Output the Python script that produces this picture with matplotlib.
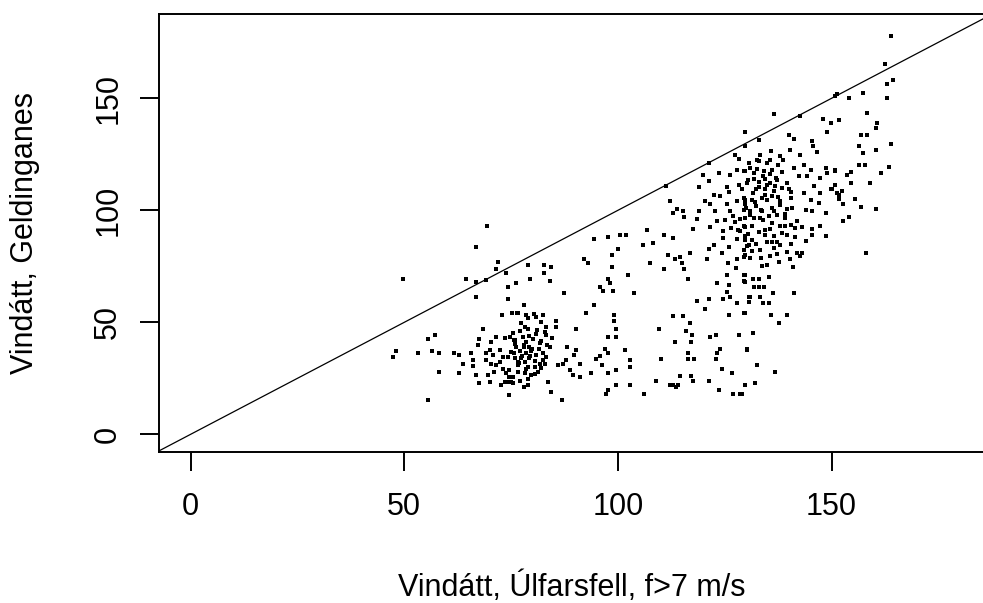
import matplotlib
matplotlib.use('Agg')
import matplotlib.pyplot as plt

plt.rcParams['font.family'] = ['Liberation Sans', 'DejaVu Sans']

# wind direction pairs (Úlfarsfell, Geldinganes)
low_left_x = [66.7, 69.3, 71.9, 71.4, 73.7, 49.8, 64.5, 66.8, 69.2, 74.3, 76.1, 66.8, 74.3, 75.3, 72.9, 76.6,
              68.5, 55.5, 57.3, 67.6, 71.5, 73.5, 74.8, 75.8, 70.4, 67.2, 48.0, 47.4, 53.1, 56.5, 58.1, 61.7,
              62.9, 65.7, 69.2, 70.0, 70.7, 72.3, 73.1, 74.3, 75.6, 66.0, 63.8, 69.2, 70.4, 71.5, 72.3, 76.6,
              66.0, 58.2, 62.9, 66.7, 69.6, 73.9, 74.6, 73.5, 75.0, 72.7, 67.6, 70.0, 74.6, 55.5]
low_left_y = [83.6, 92.9, 77.1, 73.7, 72.2, 69.2, 69.2, 68.2, 68.9, 65.7, 67.5, 61.2, 60.3, 54.3, 53.3, 54.3,
              46.9, 42.4, 44.2, 42.4, 43.3, 42.8, 43.3, 42.1, 41.1, 39.8, 37.3, 34.3, 36.1, 37.3, 36.1, 36.1,
              35.4, 36.1, 36.1, 37.6, 35.4, 37.6, 34.6, 34.6, 36.4, 33.1, 31.6, 33.1, 31.6, 30.9, 32.4, 32.4,
              30.4, 27.9, 27.2, 26.4, 26.4, 27.4, 25.6, 23.4, 23.4, 21.9, 22.7, 23.4, 17.5, 15.5]

low_dense_x = [76.4, 78.6, 80.3, 82.5, 78.9, 80.9, 77.4, 78.2, 82.1, 83.1, 75.4, 77.8, 79.3, 80.9, 83.1, 75.6,
               78.6, 80.1, 81.7, 76.2, 77.9, 79.3, 83.4, 84.0, 75.0, 77.0, 78.6, 79.7, 80.9, 82.5, 83.2, 75.8,
               77.4, 78.2, 79.3, 80.5, 81.7, 82.9, 76.6, 78.9, 80.5, 82.1, 74.6, 78.2, 79.7, 81.3, 75.4, 78.9,
               74.6, 75.4, 76.9,
               77.0, 79.0, 81.0, 83.0, 76.0, 78.0, 80.0, 82.0, 77.5, 79.5, 81.5, 76.5, 78.5, 80.5, 82.5, 77.0,
               79.0, 73.0, 71.0, 84.5]
low_dense_y = [54.0, 53.3, 53.7, 53.3, 51.8, 52.2, 49.6, 48.0, 50.3, 48.0, 45.1, 43.6, 43.9, 44.8, 44.3, 42.1,
               41.3, 42.4, 40.6, 39.1, 38.8, 39.1, 39.8, 39.1, 36.6, 37.0, 36.1, 37.0, 35.4, 36.1, 34.6, 33.9,
               33.9, 32.4, 33.9, 32.8, 31.6, 31.6, 30.9, 30.1, 30.1, 29.4, 28.6, 27.4, 26.4, 27.9, 25.6, 24.9,
               23.4, 22.7, 32.0,
               46.0, 47.0, 46.5, 45.5, 40.5, 40.0, 38.0, 41.5, 35.0, 34.8, 38.0, 28.0, 29.0, 27.0, 33.0, 24.0,
               22.0, 29.0, 28.0, 43.0]

mid_x = [94.4, 97.7, 100.5, 101.9, 100.1, 98.5, 92.0, 93.0, 78.9, 82.6, 84.4, 98.5, 82.6, 102.4, 79.5, 84.0,
         97.7, 98.1, 95.8, 96.4, 98.8, 87.3, 103.8, 94.4, 77.9, 92.5, 99.1, 99.1, 85.6, 85.6, 90.3, 99.5,
         97.7, 99.5, 88.0, 90.1, 89.8, 96.9, 97.7, 95.9, 94.8, 101.6, 87.8, 91.2, 87.2, 86.0, 88.7, 102.8,
         102.8, 96.2, 99.5, 89.5, 91.1, 93.8, 97.7, 83.6, 99.5, 102.8, 97.7, 97.2, 84.4, 86.8, 77.9]
mid_y = [87.2, 88.0, 89.1, 89.1, 82.7, 80.1, 78.2, 76.4, 75.6, 75.6, 74.6, 74.6, 71.9, 71.2, 69.2, 68.6,
         69.2, 67.5, 65.7, 64.1, 64.1, 63.0, 63.0, 57.7, 57.7, 54.0, 53.3, 50.7, 50.7, 48.0, 46.9, 46.9,
         43.6, 43.6, 39.1, 37.6, 35.4, 37.9, 36.1, 35.0, 33.4, 37.6, 33.1, 31.6, 31.6, 30.9, 28.6, 33.1,
         30.1, 30.9, 28.6, 26.4, 25.6, 27.2, 27.2, 23.4, 21.9, 21.9, 19.7, 17.9, 18.9, 15.5, 20.9]

upper_mid_x = [127.5, 128.3, 121.4, 119.9, 121.2, 123.6, 126.3, 127.8, 129.4, 125.5, 128.3, 111.3, 118.9, 112.2,
               122.4, 123.9, 120.4, 121.6, 125.5, 127.8, 129.8, 113.8, 115.3, 112.8, 118.9, 122.8, 126.3, 129.4,
               115.5, 118.5, 125.1, 123.3, 127.5, 129.8, 106.7, 117.5, 121.6, 124.6, 128.6, 110.8, 113.0, 124.7,
               127.8, 129.8, 105.8, 108.2, 122.4, 121.2, 125.9, 130.2, 111.8, 114.6, 113.4, 116.9, 124.3, 127.8,
               125.7, 129.8, 120.8, 115.1, 107.6, 127.7, 110.8, 115.5, 116.5, 125.5, 129.8, 129.8, 123.1, 125.9]
upper_mid_y = [124.9, 123.0, 120.9, 115.9, 112.9, 116.7, 115.9, 117.9, 117.5, 110.5, 111.4, 111.0, 110.5, 104.0,
               107.0, 106.5, 104.0, 103.0, 102.6, 104.0, 104.4, 100.6, 99.6, 98.8, 99.6, 99.6, 99.6, 100.3,
               97.0, 96.1, 95.5, 95.1, 94.7, 92.6, 91.1, 91.7, 92.6, 90.7, 90.7, 89.1, 87.5, 87.5,
               87.3, 86.6, 84.6, 85.3, 84.6, 82.7, 83.6, 83.9, 80.1, 79.1, 78.2, 80.9, 80.9, 78.2,
               76.4, 80.1, 78.2, 76.4, 76.4, 74.3, 73.7, 73.7, 69.2, 71.2, 71.2, 68.2, 67.5, 66.7]

lower_mid_x = [124.7, 125.5, 126.3, 127.8, 129.8, 130.6, 121.2, 118.5, 120.4, 125.9, 112.8, 115.2, 116.9, 109.5,
               116.0, 117.3, 121.6, 122.9, 128.3, 113.4, 117.0, 123.9, 123.1, 130.2, 116.5, 110.0, 116.5, 117.7,
               123.0, 124.3, 126.6, 114.6, 117.0, 109.0, 117.5, 121.2, 112.2, 113.0, 114.1, 113.7, 129.8, 106.1,
               123.6, 126.9, 128.6]
lower_mid_y = [60.3, 63.7, 61.5, 58.5, 54.0, 61.5, 60.3, 59.3, 55.8, 53.3, 52.7, 52.7, 49.6, 46.9,
               45.9, 44.3, 43.3, 44.3, 44.3, 41.3, 41.3, 38.3, 36.1, 37.6, 36.1, 33.4, 33.4, 33.4,
               33.4, 29.0, 27.2, 26.0, 26.0, 23.9, 23.9, 23.9, 21.9, 21.9, 21.9, 21.0, 21.9, 18.2,
               20.0, 18.2, 18.2]

dense_x = [136.6, 142.7, 148.0, 149.8, 151.7, 129.8, 140.0, 149.0, 141.2, 133.0, 129.8, 145.4, 140.2, 145.7,
           146.5, 135.8, 133.3, 138.0, 142.7, 138.6, 135.7, 133.0, 134.9, 130.6, 137.4, 143.5, 141.2, 145.1,
           148.6, 150.9, 129.8, 131.8, 134.1, 136.1, 142.3, 144.3, 147.4, 149.0, 131.8, 134.5, 137.2, 130.2,
           133.0, 135.7, 138.4, 140.0, 149.8, 129.0, 132.2, 134.5, 136.5, 143.5, 147.4, 151.3, 129.4, 131.3,
           133.7, 136.1, 140.4, 138.0, 145.1, 129.8, 132.2, 136.1, 140.8, 143.9, 147.0, 131.0, 133.7, 137.2,
           145.4, 148.6, 129.8, 131.8, 133.3, 135.3, 139.2, 138.0, 139.0, 140.4, 141.5, 143.1, 145.4, 147.4,
           134.5, 129.4, 131.3, 129.8, 131.3, 134.5, 136.5, 139.6, 145.4, 148.6, 134.9, 136.0, 137.2, 130.6,
           132.2, 138.0, 140.4, 129.4, 131.3, 133.3, 136.5, 141.9, 143.1, 137.2, 139.6, 129.5, 131.0, 133.5,
           137.6, 140.2, 142.5, 135.5,
           131.0, 132.5, 134.0, 135.5, 137.0, 138.5, 130.5, 133.0, 135.0, 136.8, 139.5, 131.5, 134.5, 137.5,
           140.5, 132.0, 135.0, 138.0, 130.0, 133.5, 136.5, 139.0, 127.0, 128.5, 131.0, 134.0, 136.0, 126.5,
           128.0, 130.5, 133.0, 135.5, 138.5, 141.5, 144.0, 142.0, 139.5, 146.0, 132.5, 126.0]
dense_y = [142.8, 142.3, 140.9, 139.1, 140.3, 134.9, 133.8, 134.9, 131.9, 131.3, 128.7, 131.0, 127.1, 128.7,
           126.1, 126.5, 124.9, 124.3, 124.9, 122.6, 122.6, 121.9, 121.2, 120.9, 120.0, 120.0, 119.0, 118.2,
           119.0, 117.9, 117.5, 116.7, 117.5, 118.2, 115.3, 115.3, 114.6, 116.7, 114.1, 113.8, 113.5, 112.3,
           112.7, 112.3, 110.1, 109.6, 109.3, 109.3, 109.3, 109.3, 108.5, 107.8, 107.8, 107.8, 105.5, 104.7,
           105.5, 106.3, 105.5, 104.0, 104.7, 102.6, 101.8, 101.1, 101.1, 100.3, 103.3, 99.6, 99.6, 98.0,
           99.6, 98.9, 96.7, 96.7, 96.7, 97.4, 96.7, 93.0, 93.0, 93.6, 92.1, 92.6, 91.7, 92.8,
           91.3, 92.8, 92.8, 88.4, 86.8, 89.1, 88.4, 89.1, 89.1, 88.4, 86.0, 86.0, 86.0, 84.6,
           85.1, 84.6, 85.1, 82.4, 82.0, 82.4, 83.1, 80.9, 80.9, 80.6, 81.2, 79.3, 78.5, 78.8,
           77.0, 78.2, 79.5, 79.8,
           119.0, 118.5, 115.5, 116.0, 114.5, 117.0, 113.5, 110.5, 111.5, 110.8, 112.0, 107.5, 107.0, 106.0,
           108.0, 103.5, 104.5, 102.5, 101.0, 100.0, 99.5, 98.5, 97.5, 96.0, 97.8, 95.5, 94.5, 92.0,
           91.0, 89.5, 90.5, 91.5, 90.0, 88.0, 86.5, 95.0, 100.5, 111.0, 122.5, 108.0]

right_low_x = [133.7, 134.9, 141.0, 129.6, 129.6, 131.6, 133.0, 135.3, 131.8, 133.0, 134.1, 131.0, 133.3, 136.3,
               141.3, 130.6, 135.3, 134.0, 129.6, 135.8, 139.6, 137.6, 131.6, 130.2, 132.5, 136.7, 132.0, 129.0]
right_low_y = [75.2, 75.6, 74.9, 71.2, 68.6, 69.2, 69.2, 70.4, 65.7, 65.7, 65.7, 61.2, 61.5, 63.3,
               63.0, 59.0, 58.6, 58.6, 54.0, 53.3, 53.3, 49.6, 45.1, 37.9, 30.9, 27.9, 22.7, 18.2]

far_right_x = [164.0, 162.6, 163.0, 164.4, 150.7, 151.3, 154.0, 157.4, 163.0, 158.3, 160.7, 160.3, 156.9, 158.3,
               156.4, 157.4, 160.3, 164.0, 156.4, 157.9, 150.7, 153.6, 154.6, 161.5, 163.4, 150.7, 150.1, 152.5,
               154.6, 159.0, 151.7, 151.7, 155.6, 152.7, 157.0, 160.3, 152.7, 154.0, 158.0]
far_right_y = [178.0, 165.1, 156.3, 158.1, 150.9, 151.7, 150.0, 152.5, 150.0, 143.5, 139.1, 136.9, 133.8, 133.8,
               128.7, 125.7, 126.7, 129.4, 120.4, 120.4, 117.7, 115.9, 117.0, 116.7, 119.4, 111.4, 109.7, 108.8,
               112.2, 112.2, 106.8, 105.2, 105.2, 102.6, 101.4, 100.7, 95.2, 97.0, 80.9]

x_all = low_left_x + low_dense_x + mid_x + upper_mid_x + lower_mid_x + dense_x + right_low_x + far_right_x
y_all = low_left_y + low_dense_y + mid_y + upper_mid_y + lower_mid_y + dense_y + right_low_y + far_right_y

fig = plt.figure(figsize=(9.83, 6.03), dpi=100)
ax = fig.add_axes([0.162, 0.2509, 0.840, 0.7254])

ax.scatter(x_all, y_all, s=5, marker='s', color='black', linewidths=0)
ax.axline((0, 0), slope=1, color='black', lw=0.9)

ax.set_xlim(-7.35, 185.9)
ax.set_ylim(-7.77, 187.5)
ax.set_xticks([0, 50, 100, 150])
ax.set_yticks([0, 50, 100, 150])

for sp in ax.spines.values():
    sp.set_linewidth(1.4)

fs = 22
ax.tick_params(axis='both', length=14, width=1.4, labelsize=fs)
ax.tick_params(axis='x', pad=15)
ax.tick_params(axis='y', pad=12, labelrotation=90)
for lab in ax.get_yticklabels():
    lab.set_va('center')

ax.set_xlabel('Vindátt, Úlfarsfell, f>7 m/s', fontsize=fs, va='center')
ax.xaxis.set_label_coords(0.5, -0.309)
ax.set_ylabel('Vindátt, Geldinganes', fontsize=fs, va='center')
ax.yaxis.set_label_coords(-0.163, 0.5)

fig.savefig('out.png', dpi=100)
